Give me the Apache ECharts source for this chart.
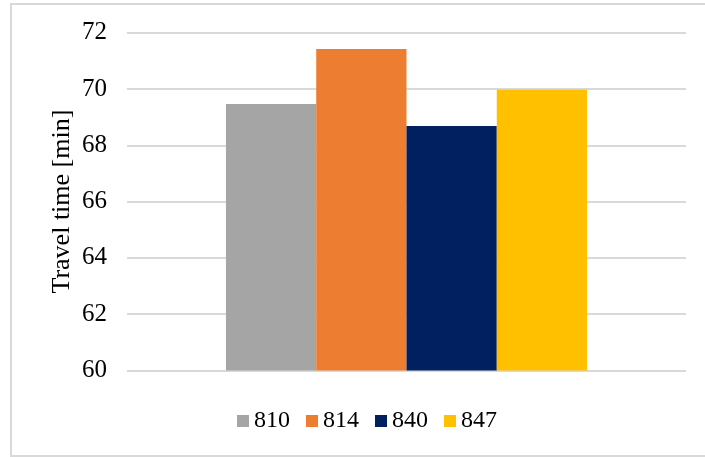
<!DOCTYPE html>
<html>
<head>
<meta charset="utf-8">
<script src="https://cdn.jsdelivr.net/npm/echarts@6/dist/echarts.min.js"></script>
<style>
  html, body { margin: 0; padding: 0; background: #fff; }
  #chart { width: 705px; height: 457px; }
</style>
</head>
<body>
<div id="chart"></div>
<script>
// Average travel time per line
const categories = [''];
const seriesNames = ['810', '814', '840', '847'];
const values810 = [69.47];
const values814 = [71.42];
const values840 = [68.69];
const values847 = [69.97];
const yTicks = { min: 60, max: 72, interval: 2 };

const seriesValues = [values810, values814, values840, values847];
const colors = ['#a5a5a5', '#ed7d31', '#002060', '#ffc000'];
const font = 'Liberation Serif';

const chart = echarts.init(document.getElementById('chart'), null, { renderer: 'canvas' });

chart.setOption({
  animation: false,
  backgroundColor: '#ffffff',
  color: colors,
  graphic: [{
    type: 'rect',
    shape: { x: 11, y: 4, width: 720, height: 452 },
    style: { fill: 'none', stroke: '#d9d9d9', lineWidth: 2 },
    silent: true,
    z: -1
  }],
  grid: { left: 127, right: 19, top: 32.7, bottom: 86.5, containLabel: false },
  legend: {
    data: seriesNames,
    left: 232,
    top: 404,
    itemWidth: 12,
    itemHeight: 12,
    itemGap: 16,
    icon: 'rect',
    textStyle: { fontFamily: font, fontSize: 24, color: '#000' }
  },
  xAxis: {
    type: 'category',
    data: categories,
    axisLine: { show: false },
    axisTick: { show: false },
    axisLabel: { show: false },
    splitLine: { show: false }
  },
  yAxis: {
    type: 'value',
    min: yTicks.min,
    max: yTicks.max,
    interval: yTicks.interval,
    name: 'Travel time [min]',
    nameLocation: 'middle',
    nameGap: 52,
    nameMoveOverlap: false,
    nameTextStyle: { fontFamily: font, fontSize: 26, color: '#000' },
    axisLine: { show: false },
    axisTick: { show: false },
    axisLabel: { fontFamily: font, fontSize: 25, color: '#000', margin: 20 },
    splitLine: { lineStyle: { color: '#d9d9d9', width: 2 } }
  },
  series: seriesNames.map((name, i) => ({
    name: name,
    type: 'bar',
    data: seriesValues[i],
    barGap: '0%',
    barCategoryGap: '35.4%',
    itemStyle: { color: colors[i] }
  }))
});
</script>
</body>
</html>
